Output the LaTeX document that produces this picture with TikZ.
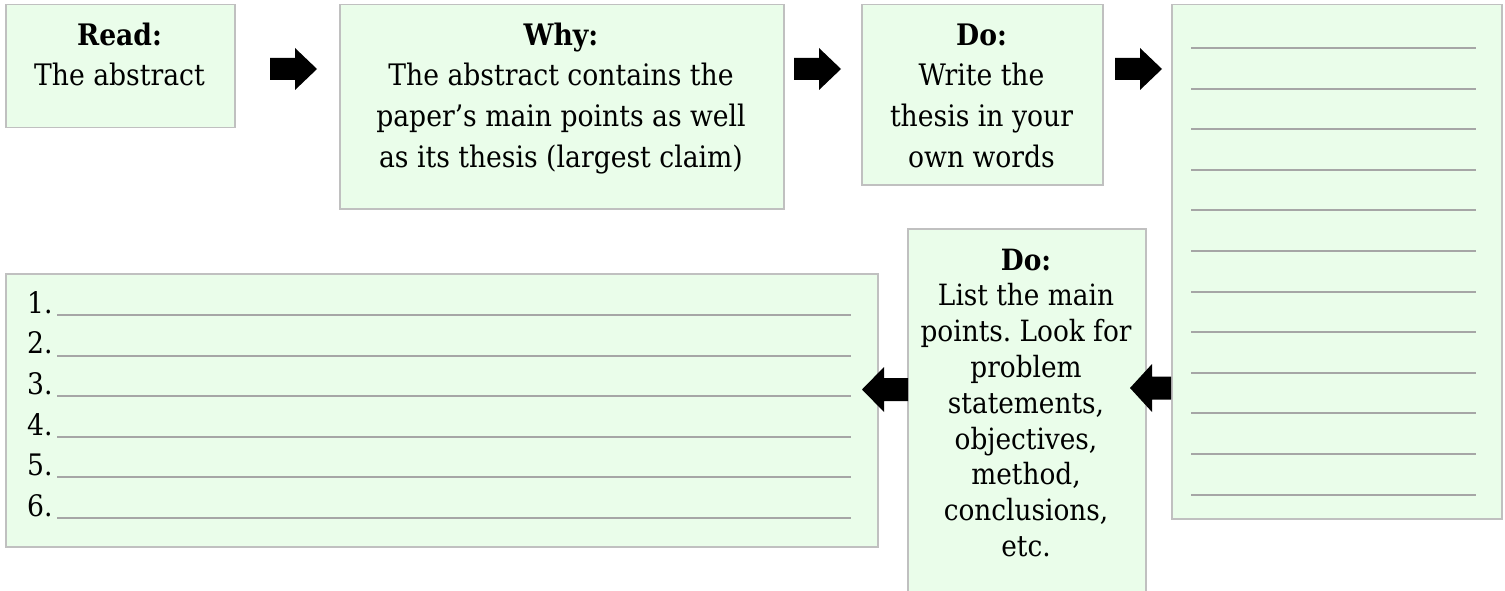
\documentclass[tikz,border=0pt]{standalone}
\usepackage{fontspec}
\setmainfont{DejaVu Serif Condensed}[BoldFont={DejaVu Serif Condensed Bold}]
\frenchspacing
\definecolor{boxfill}{RGB}{234,253,234}
\definecolor{boxline}{RGB}{192,192,192}
\definecolor{ruleline}{RGB}{166,166,166}
\tikzset{
  panel/.style={draw=boxline, fill=boxfill, line width=1.5pt, inner sep=0pt, anchor=north west},
  bigtext/.style={font=\fontsize{29.6}{40.6}\selectfont\frenchspacing, align=center, inner sep=0pt, anchor=north},
  smalltext/.style={font=\fontsize{29.3}{35.8}\selectfont\frenchspacing, align=center, inner sep=0pt, anchor=north},
  listtext/.style={font=\fontsize{29.6}{40.6}\selectfont, align=left, inner sep=0pt, anchor=north west},
  blank/.style={draw=ruleline, line width=2pt},
  rarrow/.pic={\fill[black] (0,-11)--(25,-11)--(25,-21)--(47,0)--(25,21)--(25,11)--(0,11)--cycle;},
  larrowshort/.pic={\fill[black] (0,-11.5)--(-19,-11.5)--(-19,-24)--(-41,0)--(-19,24)--(-19,11.5)--(0,11.5)--cycle;},
  larrowlong/.pic={\fill[black] (0,-11.5)--(-24,-11.5)--(-24,-22.5)--(-46,0)--(-24,22.5)--(-24,11.5)--(0,11.5)--cycle;},
}
\begin{document}
\begin{tikzpicture}[x=1pt,y=-1pt]
\useasboundingbox (0,0) rectangle (1505,591);
\clip (0,0) rectangle (1505,591);
% boxes
\node[panel, minimum width=229pt, minimum height=123pt] (read) at (5,4) {};
\node[panel, minimum width=444pt, minimum height=204pt] (why) at (339,4) {};
\node[panel, minimum width=241pt, minimum height=180pt] (do1) at (861,4) {};
\node[panel, minimum width=330pt, minimum height=514pt] (notes) at (1171,4) {};
\node[panel, minimum width=238pt, minimum height=372pt] (do2) at (907,228) {};
\node[panel, minimum width=872pt, minimum height=273pt] (list) at (5,273) {};
% texts
\node[bigtext] (readtxt) at (119.5,16.6) {\strut\textbf{Read:}\\The abstract};
\node[bigtext] (whytxt) at (561,16.6) {\strut\textbf{Why:}\\The abstract contains the\\paper’s main points as well\\as its thesis (largest claim)};
\node[bigtext] (do1txt) at (981.5,16.6) {\strut\textbf{Do:}\\Write the\\thesis in your\\own words};
\node[smalltext] (do2txt) at (1026,244.9) {\strut\textbf{Do:}\\List the main\\points. Look for\\problem\\statements,\\objectives,\\method,\\conclusions,\\etc.};
\node[listtext] (nums) at (27,284.6) {\strut 1.\\2.\\3.\\4.\\5.\\6.};
% blanks
\foreach \k in {0,...,11} {
  \draw[blank] (1191,48+40.6*\k) -- (1476,48+40.6*\k);
}
\foreach \k in {0,...,5} {
  \draw[blank] (57,315+40.6*\k) -- (851,315+40.6*\k);
}
% block arrows between the boxes
\coordinate (a1) at (270,69);
\coordinate (a2) at (794,69);
\coordinate (a3) at (1115,69);
\coordinate (a4) at (notes.west |- 0,388);
\coordinate (a5) at (908,389.5);
\pic at (a1) {rarrow};
\pic at (a2) {rarrow};
\pic at (a3) {rarrow};
\pic at (a4) {larrowshort};
\pic at (a5) {larrowlong};
\end{tikzpicture}
\end{document}
